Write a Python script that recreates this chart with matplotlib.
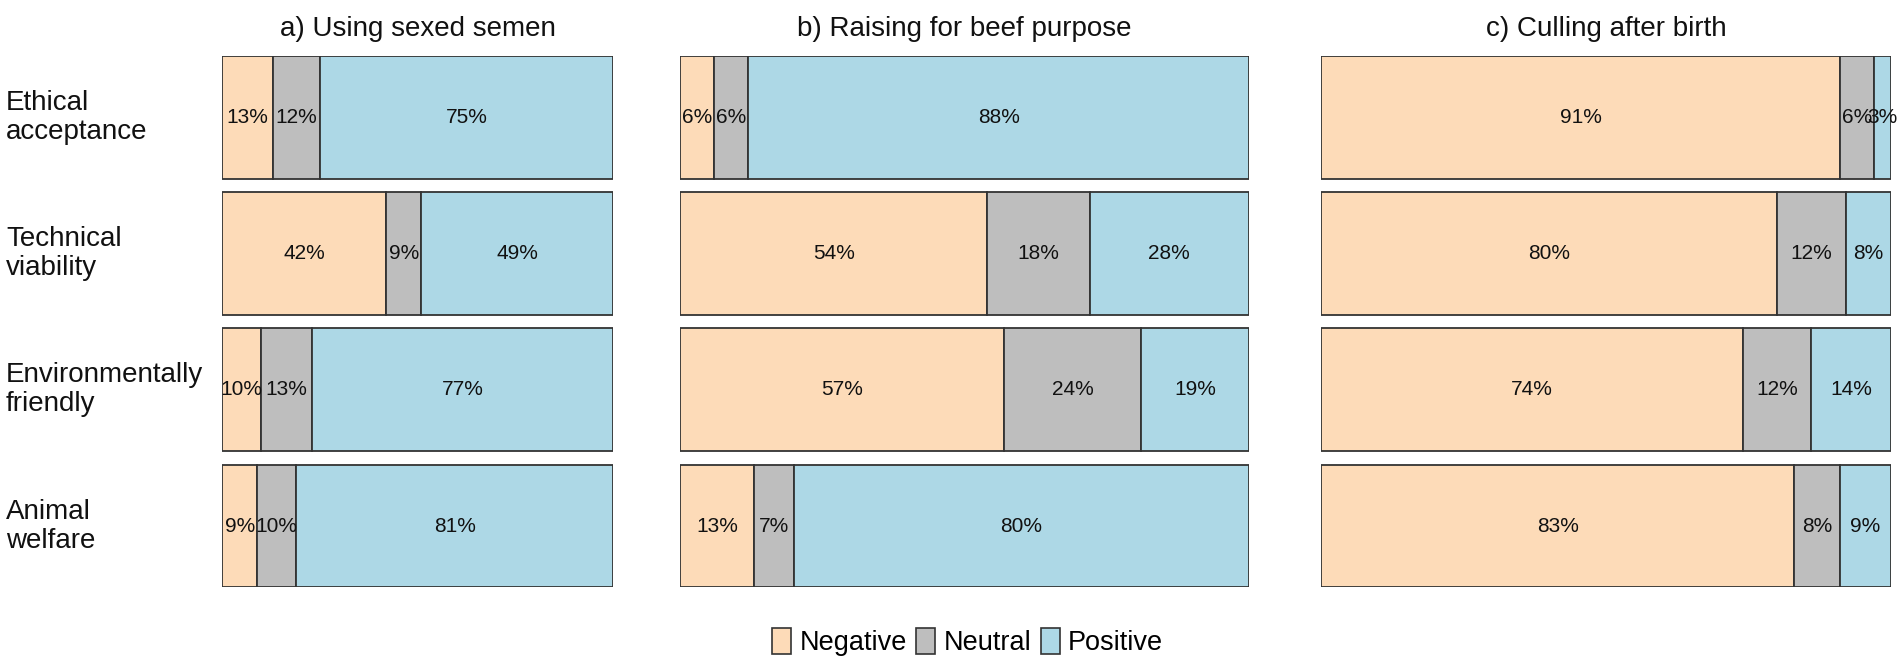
import matplotlib
matplotlib.use("Agg")
import matplotlib.pyplot as plt
from matplotlib.patches import Patch

plt.rcParams['font.family'] = ['Liberation Sans', 'DejaVu Sans']

categories = ["Ethical\nacceptance", "Technical\nviability", "Environmentally\nfriendly", "Animal\nwelfare"]
panel_titles = ["a) Using sexed semen", "b) Raising for beef purpose", "c) Culling after birth"]
responses = ["Negative", "Neutral", "Positive"]

neg_a = [13, 42, 10, 9]
neu_a = [12, 9, 13, 10]
pos_a = [75, 49, 77, 81]

neg_b = [6, 54, 57, 13]
neu_b = [6, 18, 24, 7]
pos_b = [88, 28, 19, 80]

neg_c = [91, 80, 74, 83]
neu_c = [6, 12, 12, 8]
pos_c = [3, 8, 14, 9]

colors = ["#FDDBB8", "#BEBEBE", "#ADD8E6"]
edge = "#333333"

panels = [(neg_a, neu_a, pos_a), (neg_b, neu_b, pos_b), (neg_c, neu_c, pos_c)]

W, H = 1901, 666
fig = plt.figure(figsize=(W / 100, H / 100), dpi=100)

bottom = 0.118
top = 0.916
lefts = [0.1168, 0.3577, 0.6950]
widths = [0.2057, 0.2993, 0.2998]

ypos = list(range(len(categories)))
for k, (data, title) in enumerate(zip(panels, panel_titles)):
    ax = fig.add_axes([lefts[k], bottom, widths[k], top - bottom])
    left = [0] * len(categories)
    for s, vals in enumerate(data):
        ax.barh(ypos, vals, left=left, height=0.9, color=colors[s],
                edgecolor=edge, linewidth=1.3)
        for i, v in enumerate(vals):
            ax.text(left[i] + v / 2, ypos[i], f"{v}%", ha="center", va="center",
                    fontsize=15, color="#111111")
        left = [l + v for l, v in zip(left, vals)]
    ax.set_xlim(0, 100)
    ax.set_ylim(3.45, -0.45)
    ax.axis("off")
    ax.set_title(title, fontsize=20, pad=14, color="#111111")
    if k == 0:
        for i, c in enumerate(categories):
            fig.text(6 / W, ax.transData.transform((0, ypos[i]))[1] / H, c,
                     ha="left", va="center", fontsize=20, linespacing=1.15,
                     color="#111111")

handles = [Patch(facecolor=colors[i], edgecolor=edge, linewidth=1.2) for i in range(3)]
fig.legend(handles, responses, loc="center", bbox_to_anchor=(0.509, 0.036),
           ncol=3, frameon=False, fontsize=19.5, handlelength=0.7, handleheight=1.1,
           handletextpad=0.3, columnspacing=0.35)

fig.savefig("out.png", dpi=100)
